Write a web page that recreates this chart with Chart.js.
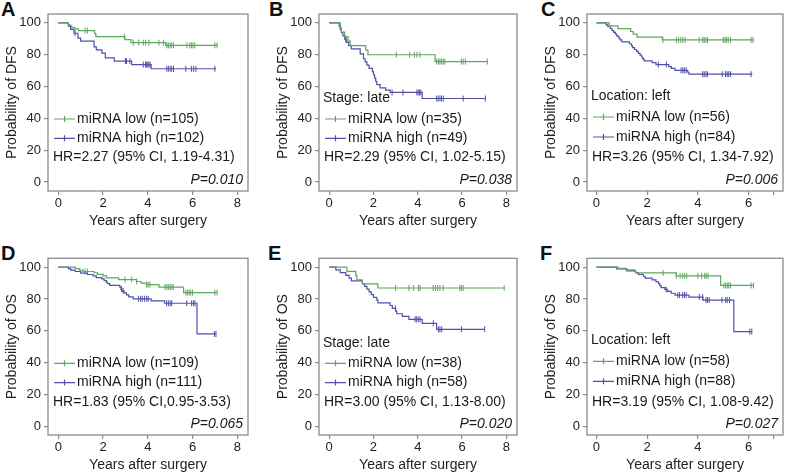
<!DOCTYPE html>
<html>
<head>
<meta charset="utf-8">
<title>miRNA survival curves</title>
<style>
  body { margin: 0; background: #fff; width: 787px; height: 474px; overflow: hidden; position: relative;
         font-family: "Liberation Sans", Arial, sans-serif; }
  canvas { position: absolute; }
  .tag { position: absolute; font-size: 20px; font-weight: bold; line-height: 20px; color: #111; }
</style>
</head>
<body>
<div class="tag" style="left:1px;top:-1px">A</div>
<div class="tag" style="left:269px;top:-1px">B</div>
<div class="tag" style="left:541px;top:-1px">C</div>
<div class="tag" style="left:1px;top:243px">D</div>
<div class="tag" style="left:268px;top:243px">E</div>
<div class="tag" style="left:540px;top:243px">F</div>

<canvas id="cA" width="252" height="230" style="left:0px;top:0px"></canvas>
<canvas id="cB" width="250" height="230" style="left:271px;top:0px"></canvas>
<canvas id="cC" width="248" height="230" style="left:539px;top:0px"></canvas>
<canvas id="cD" width="252" height="230" style="left:0px;top:244px"></canvas>
<canvas id="cE" width="250" height="230" style="left:271px;top:244px"></canvas>
<canvas id="cF" width="248" height="230" style="left:539px;top:244px"></canvas>

<script src="https://cdn.jsdelivr.net/npm/chart.js"></script>
<script>
// ---- data: event times (years) and survival (%) after each step; censor times ----
// A: DFS, all patients
const aLowT = [0, 0.45, 0.52, 0.6, 0.75, 0.9, 1.62, 1.68, 2.98, 3.25, 4.8, 7.1];
const aLowS = [100, 99.0, 98.1, 97.1, 96.2, 95.2, 93.3, 91.4, 89.5, 87.6, 85.9, 85.9];
const aLowCens = [1.2, 1.3, 2.95, 3.35, 3.6, 3.8, 3.9, 4.05, 4.5, 4.7, 4.85, 4.92, 5.0, 5.07, 5.15, 5.75, 5.88, 5.95, 6.02, 6.1, 7.0, 7.1];
const aHighT = [0, 0.45, 0.55, 0.7, 0.88, 1.0, 1.6, 1.7, 1.95, 2.1, 2.5, 3.28, 4.15, 7.05];
const aHighS = [100, 98, 96, 93.5, 90.5, 88.5, 85, 83, 81, 78, 76, 73.8, 71.2, 71.2];
const aHighCens = [0.75, 3.0, 3.05, 3.2, 3.8, 3.9, 3.95, 4.0, 4.05, 4.1, 4.85, 4.92, 5.0, 5.07, 5.15, 5.7, 5.95, 6.05, 6.15, 7.0];

// B: DFS, stage late
const bLowT = [0, 0.5, 0.55, 0.7, 0.85, 0.95, 1.65, 1.75, 4.78, 7.14];
const bLowS = [100, 97.1, 94.3, 91.4, 88.6, 85.7, 82.9, 80.0, 75.7, 75.7];
const bLowCens = [3.03, 3.63, 3.84, 3.96, 4.1, 4.85, 4.93, 5.0, 5.07, 5.15, 5.22, 5.97, 6.05, 6.15, 7.14];
const bHighT = [0, 0.45, 0.5, 0.55, 0.62, 0.7, 0.78, 0.88, 1.0, 1.4, 1.55, 1.62, 1.7, 1.8, 1.95, 2.0, 2.05, 2.1, 2.15, 2.3, 2.55, 2.75, 4.2, 7.05];
const bHighS = [100, 98, 95.9, 93.9, 91.8, 89.8, 87.8, 85.7, 83.7, 80.6, 77.5, 75.5, 73.5, 71.4, 69.4, 67.3, 65.3, 63.3, 61.2, 59.2, 57.8, 56.3, 52.5, 52.5];
const bHighCens = [0.75, 2.84, 3.33, 3.96, 4.02, 4.08, 4.14, 4.85, 4.92, 5.0, 5.07, 5.15, 6.05, 7.05];

// C: DFS, location left
const cLowT = [0, 0.5, 0.85, 1.35, 1.45, 1.6, 2.6, 6.2];
const cLowS = [100, 98.2, 96.4, 94.6, 92.9, 91.1, 89.3, 89.3];
const cLowCens = [2.62, 3.15, 3.24, 3.33, 3.41, 3.5, 4.05, 4.19, 4.25, 4.32, 4.38, 5.0, 5.07, 5.13, 5.2, 5.29, 6.1, 6.18];
const cHighT = [0, 0.38, 0.45, 0.55, 0.62, 0.68, 0.75, 0.8, 0.88, 0.93, 1.0, 1.3, 1.38, 1.42, 1.5, 1.58, 1.65, 1.72, 1.78, 1.82, 1.88, 2.2, 2.35, 2.85, 2.95, 3.1, 3.6, 3.65, 6.15];
const cHighS = [100, 98.8, 97.6, 96.4, 95.2, 94.0, 92.9, 91.7, 90.5, 89.3, 88.1, 86.9, 85.7, 84.5, 83.3, 82.1, 80.9, 79.8, 78.6, 77.4, 76.2, 75.0, 73.8, 72.6, 71.4, 70.2, 69.0, 67.8, 67.8];
const cHighCens = [2.44, 2.76, 3.34, 3.41, 3.47, 3.54, 4.19, 4.25, 4.32, 4.38, 4.96, 5.09, 5.16, 5.22, 5.29, 6.1];

// D: OS, all patients
const dLowT = [0, 0.75, 0.95, 1.1, 1.6, 1.75, 2.0, 2.15, 2.7, 3.5, 3.7, 3.95, 4.5, 5.6, 7.1];
const dLowS = [100, 99.1, 98.2, 97.3, 96.5, 95.5, 94.5, 93.3, 92.2, 91.0, 90.0, 89.0, 87.5, 84.0, 84.0];
const dLowCens = [1.19, 1.3, 2.98, 3.28, 3.5, 3.95, 4.02, 4.1, 4.77, 4.85, 4.92, 5.0, 5.07, 5.14, 5.7, 5.78, 5.85, 5.92, 6.0, 7.0, 7.1];
const dHighT = [0, 0.45, 0.55, 0.75, 1.0, 1.3, 1.55, 1.7, 1.95, 2.05, 2.15, 2.2, 2.3, 2.75, 2.8, 2.85, 2.95, 3.05, 3.15, 3.35, 4.15, 4.75, 6.2, 7.05];
const dHighS = [100, 99.1, 98.2, 97.3, 96.3, 95.4, 94.5, 93.5, 92.6, 91.6, 90.6, 89.6, 88.6, 87.4, 86.2, 85.0, 83.8, 82.6, 81.3, 80.1, 78.8, 77.3, 58.0, 58.0];
const dHighCens = [2.83, 2.9, 3.58, 3.68, 3.75, 3.85, 3.95, 4.02, 4.84, 4.92, 5.0, 5.07, 5.74, 5.96, 6.04, 6.11, 6.98, 7.05];

// E: OS, stage late
const eLowT = [0, 0.8, 1.2, 1.25, 1.5, 2.2, 7.9];
const eLowS = [100, 97.4, 94.7, 92.1, 89.5, 86.9, 86.9];
const eLowCens = [3.0, 3.6, 3.8, 4.03, 4.1, 4.7, 4.8, 4.9, 5.0, 5.15, 5.9, 5.97, 6.05, 7.9];
const eHighT = [0, 0.3, 0.5, 0.75, 0.9, 1.0, 1.5, 1.6, 1.7, 1.8, 1.9, 2.0, 2.15, 2.2, 2.75, 2.85, 3.0, 3.05, 3.3, 3.6, 4.2, 4.85, 7.02];
const eHighS = [100, 98.3, 96.6, 94.8, 93.1, 91.4, 89.7, 87.9, 86.2, 84.5, 82.8, 81.0, 79.3, 77.6, 75.9, 74.1, 72.4, 70.7, 69.0, 67.2, 64.7, 60.9, 60.9];
const eHighCens = [2.99, 3.88, 3.95, 4.02, 4.1, 4.7, 4.93, 5.0, 5.08, 5.97, 7.02];

// F: OS, location left
const fLowT = [0, 0.85, 1.15, 1.5, 1.55, 3.15, 4.9, 6.2];
const fLowS = [100, 99.2, 98.3, 97.4, 96.4, 94.6, 88.5, 88.5];
const fLowCens = [2.63, 3.15, 3.3, 3.4, 3.48, 3.56, 4.0, 4.15, 4.27, 4.33, 4.4, 5.03, 5.1, 5.16, 5.22, 5.29, 6.1, 6.2];
const fHighT = [0, 0.8, 1.2, 1.55, 1.65, 1.85, 1.92, 2.2, 2.35, 2.45, 2.5, 2.55, 2.7, 2.8, 2.95, 3.1, 3.65, 4.2, 5.42, 6.13];
const fHighS = [100, 98.9, 97.7, 96.6, 95.4, 94.3, 93.1, 92.0, 90.8, 89.6, 88.4, 87.2, 86.0, 84.8, 83.6, 82.4, 81.2, 79.3, 59.5, 59.5];
const fHighCens = [2.75, 3.21, 3.28, 3.4, 3.47, 3.54, 4.06, 4.19, 4.32, 4.38, 4.45, 4.95, 5.1, 5.16, 5.25, 6.05, 6.13];

const yTicks = [0, 20, 40, 60, 80, 100];
const xTicks8 = [0, 2, 4, 6, 8];
const xTicks6 = [0, 2, 4, 6, 7];
const xLabels = [0, 2, 4, 6, 8];

const green = '#5fa65f';
const blue = '#5050a8';
const frameColor = '#8c8c8c';
const FONT = '"Liberation Sans", Arial, sans-serif';

Chart.defaults.font.family = FONT;
Chart.defaults.color = '#222';

// survival value of a step curve at time t
function stepAt(T, S, t) {
    let v = S[0];
    for (let i = 0; i < T.length; i++) if (T[i] <= t) v = S[i];
    return v;
}

function curve(T, S, color) {
    return {
        data: T.map((t, i) => ({x: t, y: S[i]})),
        borderColor: color, borderWidth: 1.2, pointRadius: 0, stepped: true, fill: false
    };
}

function censors(T, S, C, color) {
    return {
        data: C.map(t => ({x: t, y: stepAt(T, S, t)})),
        showLine: false, pointStyle: 'line', pointRotation: 90, pointRadius: 3,
        borderColor: color, borderWidth: 1, pointHoverRadius: 3
    };
}

// frame and in-plot texts
const kmText = {
    id: 'kmText',
    afterDraw(chart, args, o) {
        const ctx = chart.ctx, a = chart.chartArea;
        ctx.save();
        ctx.strokeStyle = frameColor;
        ctx.lineWidth = 1.3;
        ctx.strokeRect(a.left, a.top, a.right - a.left, a.bottom - a.top);
        ctx.font = '14px ' + FONT;
        ctx.fillStyle = '#1a1a1a';
        ctx.textBaseline = 'middle';
        if (o.sub) ctx.fillText(o.sub, a.left + 4, a.top + o.rows[0]);
        [[o.low, green, o.rows[1]], [o.high, blue, o.rows[2]]].forEach(([txt, col, dy]) => {
            const y = a.top + dy;
            ctx.strokeStyle = col;
            ctx.lineWidth = 1.2;
            ctx.beginPath();
            ctx.moveTo(a.left + 6, y); ctx.lineTo(a.left + 27, y);
            ctx.moveTo(a.left + 16.5, y - 3); ctx.lineTo(a.left + 16.5, y + 3);
            ctx.stroke();
            ctx.fillText(txt, a.left + 29, y);
        });
        ctx.fillText(o.hr, a.left + 5, a.top + 143.5);
        ctx.font = 'italic 14px ' + FONT;
        ctx.textAlign = 'right';
        ctx.fillText(o.p, a.right - 5, a.top + 166);
        ctx.restore();
    }
};

function makePanel(id, p) {
    new Chart(document.getElementById(id), {
        type: 'line',
        data: {
            datasets: [
                curve(p.lowT, p.lowS, green),
                curve(p.highT, p.highS, blue),
                censors(p.lowT, p.lowS, p.lowCens, green),
                censors(p.highT, p.highS, p.highCens, blue)
            ]
        },
        options: {
            responsive: false,
            animation: false,
            layout: {padding: {top: p.padTop, right: p.padRight, left: 0, bottom: 0}},
            plugins: {
                legend: {display: false},
                tooltip: {enabled: false},
                kmText: {sub: p.sub, low: p.low, high: p.high, hr: p.hr, p: p.p, rows: p.rows}
            },
            scales: {
                x: {
                    type: 'linear', min: p.xMin, max: p.xMax,
                    afterBuildTicks: s => { s.ticks = p.xTicks.map(v => ({value: v})); },
                    afterFit: s => { s.height = 39; },
                    ticks: {
                        callback: v => xLabels.includes(v) ? String(v) : '',
                        padding: 1, font: {size: 13}, color: '#222', maxRotation: 0, autoSkip: false
                    },
                    grid: {drawOnChartArea: false, tickLength: 4, color: frameColor, lineWidth: 1.2},
                    border: {display: false},
                    title: {display: true, text: 'Years after surgery', font: {size: 14}, color: '#222',
                            padding: {top: 0, bottom: 0.6}}
                },
                y: {
                    type: 'linear', min: -5.6, max: 105.6,
                    afterBuildTicks: s => { s.ticks = yTicks.map(v => ({value: v})); },
                    afterFit: s => { s.width = 48; },
                    ticks: {padding: 3, font: {size: 13}, color: '#222', autoSkip: false},
                    grid: {drawOnChartArea: false, tickLength: 4, color: frameColor, lineWidth: 1.2},
                    border: {display: false},
                    title: {display: true, text: p.yTitle, font: {size: 14}, color: '#222',
                            padding: {top: 4, bottom: 0}}
                }
            }
        },
        plugins: [kmText]
    });
}

const rows8 = [84.5, 105, 124.3];
const rows6 = [82, 103, 123];

makePanel('cA', {lowT: aLowT, lowS: aLowS, lowCens: aLowCens, highT: aHighT, highS: aHighS, highCens: aHighCens,
    xMin: -0.46, xMax: 8.48, xTicks: xTicks8, padTop: 14, padRight: 4, yTitle: 'Probability of DFS',
    sub: null, low: 'miRNA low (n=105)', high: 'miRNA high (n=102)',
    hr: 'HR=2.27 (95% CI, 1.19-4.31)', p: 'P=0.010', rows: rows8});

makePanel('cB', {lowT: bLowT, lowS: bLowS, lowCens: bLowCens, highT: bHighT, highS: bHighS, highCens: bHighCens,
    xMin: -0.46, xMax: 8.48, xTicks: xTicks8, padTop: 14, padRight: 3.3, yTitle: 'Probability of DFS',
    sub: 'Stage: late', low: 'miRNA low (n=35)', high: 'miRNA high (n=49)',
    hr: 'HR=2.29 (95% CI, 1.02-5.15)', p: 'P=0.038', rows: rows8});

makePanel('cC', {lowT: cLowT, lowS: cLowS, lowCens: cLowCens, highT: cHighT, highS: cHighS, highCens: cHighCens,
    xMin: -0.373, xMax: 7.36, xTicks: xTicks6, padTop: 14, padRight: 1, yTitle: 'Probability of DFS',
    sub: 'Location: left', low: 'miRNA low (n=56)', high: 'miRNA high (n=84)',
    hr: 'HR=3.26 (95% CI, 1.34-7.92)', p: 'P=0.006', rows: rows6});

makePanel('cD', {lowT: dLowT, lowS: dLowS, lowCens: dLowCens, highT: dHighT, highS: dHighS, highCens: dHighCens,
    xMin: -0.46, xMax: 8.48, xTicks: xTicks8, padTop: 14.3, padRight: 4, yTitle: 'Probability of OS',
    sub: null, low: 'miRNA low (n=109)', high: 'miRNA high (n=111)',
    hr: 'HR=1.83 (95% CI,0.95-3.53)', p: 'P=0.065', rows: rows8});

makePanel('cE', {lowT: eLowT, lowS: eLowS, lowCens: eLowCens, highT: eHighT, highS: eHighS, highCens: eHighCens,
    xMin: -0.46, xMax: 8.48, xTicks: xTicks8, padTop: 14.3, padRight: 3.3, yTitle: 'Probability of OS',
    sub: 'Stage: late', low: 'miRNA low (n=38)', high: 'miRNA high (n=58)',
    hr: 'HR=3.00 (95% CI, 1.13-8.00)', p: 'P=0.020', rows: rows8});

makePanel('cF', {lowT: fLowT, lowS: fLowS, lowCens: fLowCens, highT: fHighT, highS: fHighS, highCens: fHighCens,
    xMin: -0.373, xMax: 7.36, xTicks: xTicks6, padTop: 14.3, padRight: 1, yTitle: 'Probability of OS',
    sub: 'Location: left', low: 'miRNA low (n=58)', high: 'miRNA high (n=88)',
    hr: 'HR=3.19 (95% CI, 1.08-9.42)', p: 'P=0.027', rows: rows6});
</script>
</body>
</html>
